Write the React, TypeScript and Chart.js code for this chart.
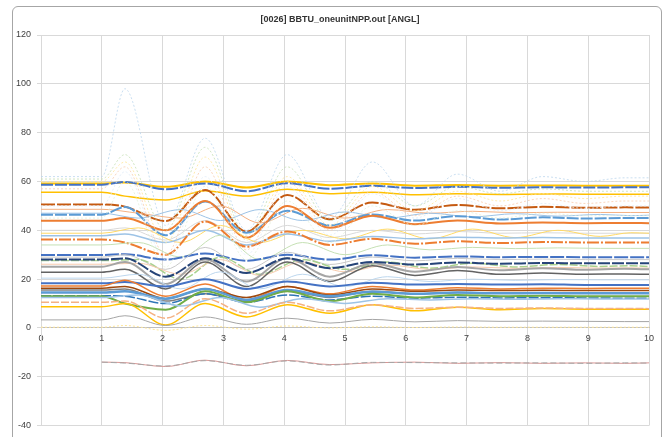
import React, { useEffect, useRef } from "react";
import { Chart, registerables } from "chart.js";

Chart.register(...registerables);

const TITLE = "[0026] BBTU_oneunitNPP.out [ANGL]";
const X_VALUES = [0, 1, 1.38, 2.05, 2.7, 3.38, 4.05, 4.75, 5.45, 6.15, 6.85, 7.55, 8.25, 8.95, 9.6, 10];
const X_SHIFTED = [0, 1, 1.6, 2.3, 2.95, 3.6, 4.3, 5.0, 5.7, 6.4, 7.1, 7.8, 8.5, 9.2, 9.7, 10];
const X_TICKS = [0, 1, 2, 3, 4, 5, 6, 7, 8, 9, 10];
const Y_TICKS = [-40, -20, 0, 20, 40, 60, 80, 100, 120];

// main traces
const s01 = [59.2, 59.2, 59.6, 57.8, 60, 57.5, 60, 58.5, 59.2, 58.3, 58.6, 58.3, 58.4, 58.3, 58.3, 58.3];
const s02 = [58.7, 58.7, 59.8, 56.8, 59.2, 56, 59.3, 57, 58.2, 57.3, 57.8, 57.4, 57.6, 57.5, 57.6, 57.6];
const s03 = [55.6, 55.6, 54, 52.4, 56.2, 54, 56.8, 55, 55.6, 54.6, 55, 54.7, 54.9, 54.8, 54.8, 54.8];
const s04 = [50.6, 50.6, 49.7, 43.8, 56.5, 39.5, 54.5, 44.5, 51.4, 48.4, 50.4, 49, 49.6, 49.2, 49.4, 49.3];
const s05 = [48.6, 48.6, 47, 45, 50, 43, 49, 45, 48.5, 47, 47.8, 47.2, 47.4, 47.3, 47.3, 47.3];
const s06 = [47, 47, 45, 48.5, 44, 48.5, 44, 47.5, 45, 47, 45.5, 46.8, 45.8, 46.5, 46, 46.2];
const s07 = [46.4, 46.4, 49.5, 38, 51.8, 39, 48, 42, 46.5, 44, 45.8, 44.4, 45.3, 44.8, 45, 45];
const s08 = [43.9, 43.9, 45, 40, 52, 37, 50, 41, 46, 42.5, 44, 42.8, 43.2, 42.9, 43, 42.9];
const s09 = [40, 40, 41, 36, 44, 35, 42, 37, 40, 38.5, 39.5, 38.8, 39, 38.8, 38.8, 38.8];
const s10 = [38.8, 38.8, 41, 35, 42, 35, 40, 36.5, 40.5, 36.5, 40.5, 37, 40, 37.5, 39, 38.8];
const s11 = [37.8, 37.8, 38.5, 35, 40, 34, 38.5, 35.5, 37.5, 36.5, 37.2, 36.8, 37, 36.8, 36.8, 36.8];
const s12 = [36.2, 36.2, 35, 30, 43.6, 33.3, 39.5, 34, 36.5, 34.5, 35.5, 34.8, 35.2, 35, 35, 35];
const s13 = [34, 34, 35, 29, 38, 28, 35, 30, 34, 32, 33, 32.5, 32.8, 32.6, 32.6, 32.6];
const s14 = [29.9, 29.9, 30.2, 28, 30.5, 27.5, 30, 28, 29.8, 28.8, 29.3, 29, 29.1, 29, 29, 29];
const s15 = [29, 29, 30, 24, 33, 24, 31, 26, 29, 27.5, 28.5, 28, 28.2, 28, 28, 28];
const s16 = [27.6, 27.6, 28, 20, 29, 22, 28, 24, 27, 24.5, 26.5, 25, 26, 25.2, 25.5, 25.1];
const s17 = [26.1, 26.1, 26.5, 22, 28, 21.5, 27, 23, 25.8, 24, 25, 24.4, 24.8, 24.5, 24.6, 24.5];
const s18 = [25.1, 25.1, 27, 18, 28, 19, 28.5, 21, 26.5, 23, 25, 23.6, 24.5, 23.8, 24.2, 24];
const s19 = [22.8, 22.8, 24, 16, 27, 17, 27, 19, 25.5, 21.5, 23.5, 22, 22.5, 22, 22.1, 22];
const s20 = [28, 28, 28.5, 21, 28.5, 22.5, 28.5, 24.5, 27, 26, 26.8, 26.3, 26.6, 26.5, 26.5, 26.5];
const s21 = [20.4, 20.4, 22, 16, 23, 16, 22, 17, 21, 19, 20, 19.5, 19.8, 19.7, 19.7, 19.7];
const s22 = [18.3, 18.3, 18.8, 17, 20, 16, 19, 17, 18.5, 17.8, 18, 17.8, 17.9, 17.6, 17.6, 17.6];
const s23 = [17.2, 17.2, 19.5, 13, 18, 11.5, 17, 14, 17, 15.5, 16.5, 16, 16.3, 16.2, 16.3, 16.3];
const s24 = [16.3, 16.3, 17, 12, 16, 12.5, 17, 13.5, 16, 15, 15.5, 15.3, 15.4, 15.3, 15.3, 15.3];
const s25 = [15.5, 15.5, 16, 11, 14, 11, 15, 12.5, 15, 14, 14.5, 14.3, 14.4, 14.3, 14.3, 14.3];
const s26 = [14.5, 14.5, 15, 12, 16, 11.5, 15.5, 13, 14.8, 14, 14.5, 14.2, 14.3, 14.2, 14.2, 14.2];
const s27 = [13.2, 13.2, 13, 10, 14, 10.5, 13.5, 11.5, 13, 12.2, 12.6, 12.3, 12.4, 12.3, 12.2, 12.2];
const s28 = [13, 13, 10, 7.5, 15, 10.5, 15, 11, 14, 12.5, 13.5, 13, 13.2, 13, 13, 13];
const s29 = [12.5, 12.5, 13.5, 9, 12.5, 8.5, 12, 10, 12, 11.5, 12, 11.8, 12, 11.9, 11.9, 11.9];
const s30 = [8.7, 8.7, 10, 1.2, 10, 4.5, 9.5, 6, 9.5, 7, 8.5, 7.5, 8, 7.7, 7.7, 7.7];
const s31 = [10.5, 10.5, 11, 4, 12, 6, 10.5, 7, 9.5, 8, 8.5, 8, 8.2, 8, 8, 7.9];
const s32 = [3.3, 3.3, 5, 1, 4.5, 1.5, 4, 2, 3.5, 2.5, 3, 2.7, 2.8, 2.7, 2.6, 2.6];
const s33 = [null, -14, -14.2, -15.8, -13.2, -15.5, -13.3, -15, -14.3, -14, -14.5, -14.2, -14.5, -14.3, -14.5, -14.3];
const s34 = [null, -14, -14.4, -15.6, -13.4, -15.3, -13.5, -15.2, -14.1, -14.2, -14.3, -14.4, -14.3, -14.5, -14.3, -14.4];
// faint oscillating traces
const s35 = [62, 62, 98, 42, 77.7, 40, 71, 45, 68, 50, 63, 56, 62, 60, 61.5, 61.5];
const s36 = [61, 61, 71, 40, 74, 38, 66, 44, 60, 50, 58, 55, 57, 56, 56, 56];
const s37 = [60, 60, 68, 35, 70, 36, 62, 42, 58, 48, 56, 52, 55, 53, 54, 54];
const s38 = [57, 57, 66, 30, 66, 32, 60, 40, 56, 46, 54, 50, 53, 51, 52, 52];
const s39 = [50, 50, 64, 28, 62, 30, 58, 38, 55, 45, 53, 48, 51, 49, 50, 50];
const s40 = [45, 45, 60, 25, 58, 28, 52, 35, 50, 42, 48, 45, 47, 46, 46, 46];
const s41 = [0.3, 0.3, 1, -1, 1, -0.5, 0.8, 0, 0.5, 0.2, 0.4, 0.3, 0.3, 0.3, 0.3, 0.3];

const SERIES = [s01, s02, s03, s04, s05, s06, s07, s08, s09, s10, s11, s12, s13, s14, s15, s16, s17, s18, s19, s20,
  s21, s22, s23, s24, s25, s26, s27, s28, s29, s30, s31, s32, s33, s34, s35, s36, s37, s38, s39, s40, s41];
// which traces are sampled on the shifted time grid
const SHIFTED_TRACES = [6, 10, 13, 16, 21, 29, 5, 17];

// styles: [color, width, dash]
const STYLES: [string, number, number[]][] = [
  ["#FFC000", 2, []],
  ["#4472C4", 2, [12, 2]],
  ["#FFC000", 1.5, []],
  ["#C55A11", 2, [14, 2]],
  ["#F4B183", 1, []],
  ["#9DC3E6", 1, []],
  ["#5B9BD5", 2, [12, 2]],
  ["#ED7D31", 2, []],
  ["#D9D9D9", 1, []],
  ["#FFD966", 1, []],
  ["#9DC3E6", 1.5, []],
  ["#ED7D31", 2, [12, 2, 2, 2]],
  ["#C5E0B4", 1, []],
  ["#4472C4", 2, [14, 2]],
  ["#C9C9C9", 1, []],
  ["#A9D18E", 1.5, [8, 2]],
  ["#F8CBAD", 1, []],
  ["#A5A5A5", 2, []],
  ["#636363", 1.5, []],
  ["#264478", 2, [12, 2]],
  ["#BDD7EE", 1, []],
  ["#4472C4", 2, []],
  ["#ED7D31", 1.5, []],
  ["#9E480E", 1.5, []],
  ["#7F7F7F", 1.5, []],
  ["#5B9BD5", 2.5, []],
  ["#2E75B6", 1.5, [10, 2]],
  ["#70AD47", 2, []],
  ["#9DC3E6", 1.5, []],
  ["#FFC000", 1.5, []],
  ["#F4B183", 1.5, [8, 2]],
  ["#A5A5A5", 1, []],
  ["#D99694", 1, []],
  ["#A5A5A5", 1, [6, 3]],
  ["#BDD7EE", 0.8, [2, 2]],
  ["#C5E0B4", 0.8, [2, 2]],
  ["#FFE699", 0.8, [2, 2]],
  ["#F8CBAD", 0.8, [2, 2]],
  ["#DEEBF7", 0.8, [2, 2]],
  ["#E2F0D9", 0.8, [2, 2]],
  ["#FFE699", 1, [2, 2]],
];

const titlePlugin = {
  id: "titleText",
  afterDraw(chart: any) {
    const ctx = chart.ctx;
    ctx.save();
    ctx.font = "bold 9px 'Liberation Sans', sans-serif";
    ctx.fillStyle = "#333333";
    ctx.textAlign = "center";
    ctx.textBaseline = "middle";
    ctx.fillText(TITLE, 340, 20);
    ctx.restore();
  },
};

export default function App() {
  const ref = useRef<HTMLCanvasElement | null>(null);
  useEffect(() => {
    if (!ref.current) return;
    const datasets = SERIES.map((vals, i) => {
      const [color, width, dash] = STYLES[i];
      const xs = SHIFTED_TRACES.includes(i + 1) ? X_SHIFTED : X_VALUES;
      return {
        label: "trace" + (i + 1),
        data: xs.map((x, j) => ({ x, y: vals[j] })),
        borderColor: color,
        backgroundColor: color,
        borderWidth: width,
        borderDash: dash,
        pointRadius: 0,
        fill: false,
        cubicInterpolationMode: "monotone" as const,
        spanGaps: false,
        order: SERIES.length - i,
      };
    });
    const chart = new Chart(ref.current, {
      type: "line",
      data: { datasets },
      options: {
        animation: false,
        responsive: false,
        devicePixelRatio: 1,
        layout: { padding: { top: 35, right: 23, bottom: 9, left: 0 } },
        plugins: { legend: { display: false }, tooltip: { enabled: false }, title: { display: false } },
        scales: {
          x: {
            type: "linear",
            min: 0,
            max: 10,
            position: { y: 0 } as any,
            afterBuildTicks: (scale: any) => { scale.ticks = X_TICKS.map((v) => ({ value: v })); },
            ticks: { color: "#404040", font: { size: 9, family: "'Liberation Sans', sans-serif" }, padding: 1, maxRotation: 0 },
            grid: { color: "#d9d9d9", tickLength: 4 },
            border: { color: "#bfbfbf" },
          },
          y: {
            type: "linear",
            min: -40,
            max: 120,
            afterBuildTicks: (scale: any) => { scale.ticks = Y_TICKS.map((v) => ({ value: v })); },
            afterFit: (scale: any) => { scale.width = 41; },
            ticks: { color: "#404040", font: { size: 9, family: "'Liberation Sans', sans-serif" }, padding: 6 },
            grid: { color: "#d9d9d9", tickLength: 4 },
            border: { color: "#d9d9d9" },
          },
        },
      },
      plugins: [titlePlugin],
    });
    return () => chart.destroy();
  }, []);
  return (
    <div style={{ position: "fixed", left: 0, top: 0, width: 672, height: 437, background: "#ffffff", overflow: "hidden" }}>
      <div style={{ position: "absolute", left: 12, top: 6, width: 650, height: 440, border: "1px solid #a6a6a6", borderRadius: 6, boxSizing: "border-box" }} />
      <canvas ref={ref} width={672} height={437} style={{ position: "absolute", left: 0, top: 0, width: 672, height: 437 }} />
    </div>
  );
}
